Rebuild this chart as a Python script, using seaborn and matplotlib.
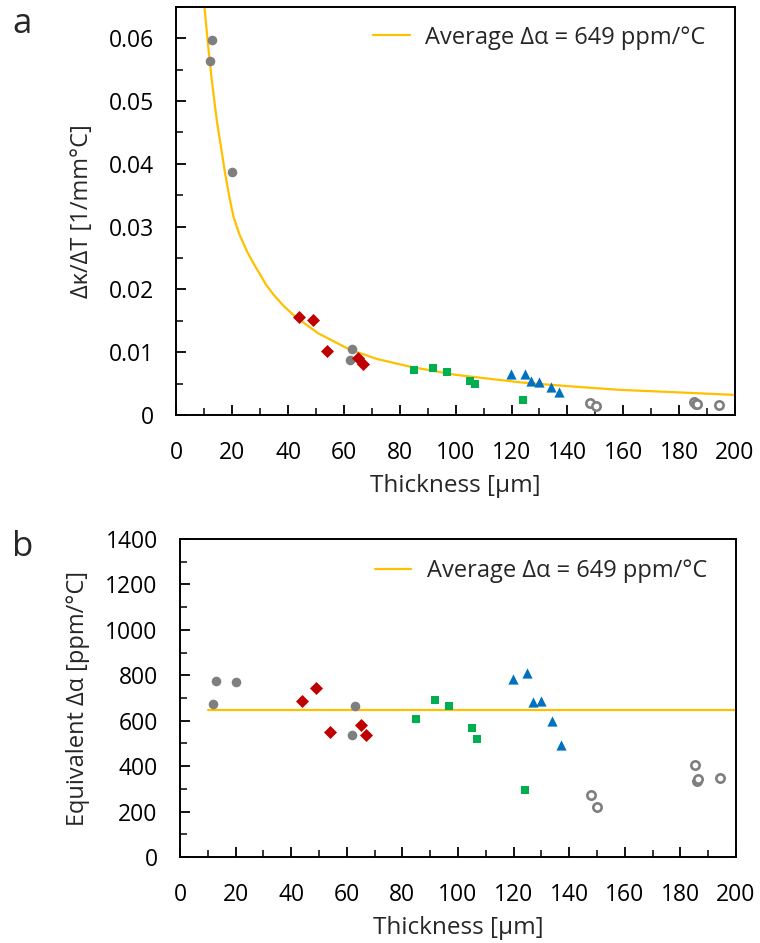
import numpy as np
import pandas as pd
import matplotlib
matplotlib.use("Agg")
import matplotlib.pyplot as plt
import seaborn as sns
from matplotlib.ticker import MultipleLocator, FuncFormatter

sns.set_style("white")
plt.rcParams['font.family'] = ['Open Sans', 'DejaVu Sans']

# thickness [um], dk/dT [1/mm C], equivalent d-alpha [ppm/C] per sample group
gray_t = [11.9, 12.9, 20.0, 62.0, 63.0]
gray_k = [0.0563, 0.0597, 0.0387, 0.0087, 0.0105]
gray_a = [674, 774, 770, 538, 663]

red_t = [44.0, 48.8, 53.9, 65.0, 66.9]
red_k = [0.0156, 0.0152, 0.0102, 0.0091, 0.0081]
red_a = [688, 745, 551, 583, 538]

green_t = [85.0, 91.9, 96.8, 105.0, 106.9, 124.0]
green_k = [0.0072, 0.0075, 0.0069, 0.0054, 0.0049, 0.0024]
green_a = [608, 692, 667, 567, 521, 296]

blue_t = [119.8, 124.9, 127.0, 129.9, 134.0, 137.0]
blue_k = [0.0065, 0.0065, 0.0054, 0.0053, 0.0045, 0.0036]
blue_a = [782, 811, 683, 689, 598, 493]

open_t = [148.0, 150.1, 185.2, 186.0, 186.4, 194.2]
open_k = [0.0019, 0.0014, 0.0021, 0.0017, 0.0018, 0.0016]
open_a = [275, 218, 405, 336, 345, 349]

# average curve
curve_t = [10, 11.4, 12.6, 14.4, 16.0, 17.4, 19.0, 20.4, 22.5, 25.2, 27.5, 29.9,
           32.0, 34.7, 38.5, 43.0, 50.8, 62.1, 72.0, 83.6, 100, 123, 140, 159, 180, 200]
curve_k = [0.0650, 0.0585, 0.0535, 0.0470, 0.0425, 0.0385, 0.0346, 0.0316, 0.0288,
           0.0261, 0.0242, 0.0224, 0.0208, 0.0192, 0.0173, 0.0155, 0.0130, 0.0104,
           0.0089, 0.0077, 0.0064, 0.0052, 0.0046, 0.0040, 0.0036, 0.0032]
avg_t = [10, 200]
avg_a = [649, 649]
avg_label = "Average \u0394\u03b1 = 649 ppm/\u00b0C"

groups = [
    (gray_t, gray_k, gray_a, 'o', '#7f7f7f', '#7f7f7f', 48, 0),
    (red_t, red_k, red_a, 'D', '#c00000', '#c00000', 44, 0),
    (green_t, green_k, green_a, 's', '#00b050', '#00b050', 34, 0),
    (blue_t, blue_k, blue_a, '^', '#0070c0', '#0070c0', 54, 0),
    (open_t, open_k, open_a, 'o', 'white', '#7f7f7f', 36, 1.9),
]

fig = plt.figure(figsize=(7.6, 9.43), dpi=100)
ax1 = fig.add_axes([0.2322, 0.5599, 0.7348, 0.4330])
ax2 = fig.add_axes([0.2368, 0.0912, 0.7316, 0.3372])

for t, k, a, m, fc, ec, s, lw in groups:
    sns.scatterplot(x=t, y=k, ax=ax1, marker=m, color=fc, edgecolor=ec,
                    linewidth=lw, s=s, legend=False, zorder=3)
    sns.scatterplot(x=t, y=a, ax=ax2, marker=m, color=fc, edgecolor=ec,
                    linewidth=lw, s=s, legend=False, zorder=3)

sns.lineplot(x=curve_t, y=curve_k, ax=ax1, color='#ffc000', lw=1.6,
             label=avg_label, sort=False, zorder=2)
sns.lineplot(x=avg_t, y=avg_a, ax=ax2, color='#ffc000', lw=1.6,
             label=avg_label, sort=False, zorder=2)

ax1.set_xlim(0, 200)
ax1.set_ylim(0, 0.065)
ax1.yaxis.set_major_locator(MultipleLocator(0.01))
ax1.yaxis.set_minor_locator(MultipleLocator(0.005))
ax1.yaxis.set_major_formatter(FuncFormatter(lambda v, p: '0' if abs(v) < 1e-9 else f'{v:.2f}'))
ax1.set_ylabel("\u0394\u03ba/\u0394T [1/mm\u00b0C]", fontsize=17, labelpad=11)

ax2.set_xlim(0, 200)
ax2.set_ylim(0, 1400)
ax2.yaxis.set_major_locator(MultipleLocator(200))
ax2.yaxis.set_minor_locator(MultipleLocator(100))
ax2.set_ylabel("Equivalent \u0394\u03b1 [ppm/\u00b0C]", fontsize=17, labelpad=11)

for ax in (ax1, ax2):
    ax.xaxis.set_major_locator(MultipleLocator(20))
    ax.xaxis.set_minor_locator(MultipleLocator(10))
    ax.set_xlabel("Thickness [\u00b5m]", fontsize=17.5, labelpad=6)
    ax.tick_params(which='major', direction='in', length=7, width=1.3,
                   labelsize=16.5, pad=16, colors='black')
    ax.tick_params(axis='x', which='major', pad=19)
    ax.tick_params(which='minor', direction='in', length=5, width=1.3)
    ax.tick_params(axis='both', which='both', bottom=True, left=True)
    for sp in ax.spines.values():
        sp.set_color('black')
        sp.set_linewidth(1.4)

ax1.legend(loc='upper right', bbox_to_anchor=(0.973, 0.988), frameon=False,
           fontsize=17, handlelength=1.55, handletextpad=0.65, borderaxespad=0.2)
ax2.legend(loc='upper right', bbox_to_anchor=(0.973, 0.981), frameon=False,
           fontsize=17, handlelength=1.55, handletextpad=0.65, borderaxespad=0.2)

fig.text(0.016, 0.975, "a", fontsize=25, va='center')
fig.text(0.016, 0.420, "b", fontsize=25, va='center')

fig.savefig("out.png", dpi=100, facecolor='white')
